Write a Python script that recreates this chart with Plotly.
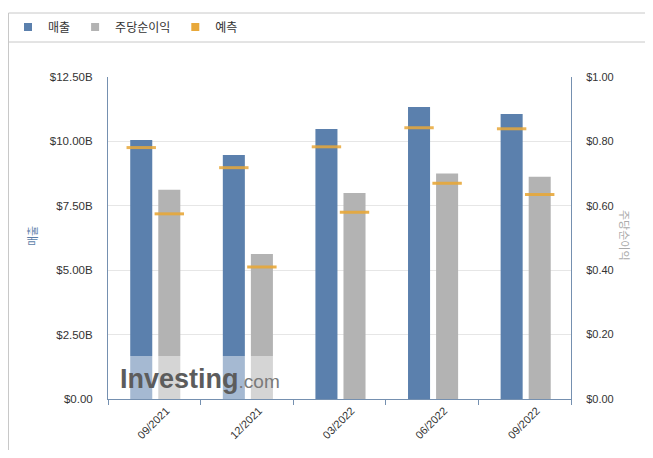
import plotly.graph_objects as go

# ---- data ----
periods = ["09/2021", "12/2021", "03/2022", "06/2022", "09/2022"]
revenue_b = [10.05, 9.47, 10.48, 11.34, 11.06]          # 매출 (billions USD)
revenue_fc_b = [9.76, 8.98, 9.79, 10.53, 10.49]         # 매출 예측
eps = [0.65, 0.45, 0.64, 0.70, 0.69]                    # 주당순이익
eps_fc = [0.575, 0.41, 0.58, 0.67, 0.635]               # 주당순이익 예측
rev_ticks = [0, 2.5, 5, 7.5, 10, 12.5]
eps_ticks = [0, 0.2, 0.4, 0.6, 0.8, 1.0]

BLUE = "#5b80ad"
GRAY = "#b3b3b3"
ORANGE = "#e8a83a"
AXIS = "#7590b0"
TXT = "#333333"
FRAME = "#c8c8c8"

idx = list(range(len(periods)))
BW = 0.238
REV_OFF = -0.26
EPS_OFF = 0.043

fig = go.Figure()
fig.add_trace(go.Bar(x=idx, y=revenue_b, width=BW, offset=REV_OFF,
                     marker=dict(color=BLUE, line=dict(width=0)),
                     name="매출", showlegend=False, yaxis="y"))
fig.add_trace(go.Bar(x=idx, y=eps, width=BW, offset=EPS_OFF,
                     marker=dict(color=GRAY, line=dict(width=0)),
                     name="주당순이익", showlegend=False, yaxis="y2"))
fig.add_trace(go.Scatter(x=[i + REV_OFF + BW / 2 for i in idx], y=revenue_fc_b,
                         mode="markers", yaxis="y", showlegend=False, name="예측",
                         marker=dict(symbol="line-ew", size=21, opacity=0.85,
                                     line=dict(color=ORANGE, width=3))))
fig.add_trace(go.Scatter(x=[i + EPS_OFF + BW / 2 for i in idx], y=eps_fc,
                         mode="markers", yaxis="y2", showlegend=False, name="예측",
                         marker=dict(symbol="line-ew", size=21, opacity=0.9,
                                     line=dict(color=ORANGE, width=3))))
# legend entries
for nm, col in [("매출", BLUE), ("주당순이익", GRAY), ("예측", ORANGE)]:
    fig.add_trace(go.Scatter(x=[None], y=[None], mode="markers", name=nm,
                             marker=dict(symbol="square", size=8, color=col)))

# page is drawn with an 8px body margin: work in page pixels, convert to figure pixels
OFF = 8
PAGE_W, PAGE_H = 653, 458
W, H = PAGE_W - 2 * OFF, PAGE_H - 2 * OFF
PL, PR, PT, PB = 108, 571, 77, 399        # plot area in page pixels
L, R, T, B = PL - OFF, W - (PR - OFF), PT - OFF, H - (PB - OFF)
pw, ph = W - L - R, H - T - B

def px_x(p):
    return (p - OFF - L) / pw

def px_y(p):
    return (H - B - (p - OFF)) / ph

fig.update_layout(
    width=W, height=H,
    margin=dict(l=L, r=R, t=T, b=B, autoexpand=False),
    paper_bgcolor="white", plot_bgcolor="white",
    barmode="overlay",
    font=dict(family="Liberation Sans, Arial, sans-serif", size=11, color=TXT),
    showlegend=True,
    legend=dict(orientation="h", xref="container", yref="container",
                x=0, xanchor="left",
                y=1 - (27 - OFF) / H, yanchor="middle",
                font=dict(family="Noto Sans CJK KR", size=12, color=TXT),
                bgcolor="rgba(0,0,0,0)", itemclick=False, tracegroupgap=0),
    xaxis=dict(range=[-0.5, len(periods) - 0.5], automargin=False,
               tickvals=[i + 0.13 for i in idx], ticktext=periods,
               tickangle=-45, ticks="", showgrid=False, zeroline=False,
               showline=True, linecolor=AXIS, linewidth=1,
               tickfont=dict(size=11, color=TXT),
               minor=dict(tickvals=[i - 0.5 for i in range(len(periods) + 1)],
                          ticks="outside", ticklen=5, tickcolor=AXIS, showgrid=False)),
    yaxis=dict(range=[0, 12.5], automargin=False, tickvals=rev_ticks,
               ticktext=[f"${v:.2f}B" if v else "$0.00" for v in rev_ticks],
               showgrid=True, gridcolor="#e6e6e6", zeroline=False,
               showline=True, linecolor=AXIS, linewidth=1, ticks="",
               ticklabelstandoff=12, tickfont=dict(size=11.5, color=TXT)),
    yaxis2=dict(range=[0, 1.0], automargin=False, tickvals=eps_ticks,
                ticktext=[f"${v:.2f}" for v in eps_ticks],
                overlaying="y", side="right", showgrid=False, zeroline=False,
                showline=True, linecolor=AXIS, linewidth=1, ticks="",
                ticklabelstandoff=12, tickfont=dict(size=11, color=TXT)),
)

# frame lines
fig.add_shape(type="line", xref="paper", yref="paper", x0=px_x(8.5), x1=px_x(PAGE_W), y0=px_y(13), y1=px_y(13),
              line=dict(color=FRAME, width=1))
fig.add_shape(type="line", xref="paper", yref="paper", x0=px_x(8.5), x1=px_x(PAGE_W), y0=px_y(42), y1=px_y(42),
              line=dict(color=FRAME, width=1))
fig.add_shape(type="line", xref="paper", yref="paper", x0=px_x(8.5), x1=px_x(8.5), y0=px_y(13), y1=px_y(PAGE_H),
              line=dict(color=FRAME, width=1))

# axis titles
fig.add_annotation(text="매출", xref="paper", yref="paper", x=px_x(32), y=px_y(236),
                   xanchor="center", yanchor="middle",
                   showarrow=False, textangle=-90,
                   font=dict(family="Noto Sans CJK KR", size=11, color="#5b7ea8"))
fig.add_annotation(text="주당순이익", xref="paper", yref="paper", x=px_x(625), y=px_y(235),
                   xanchor="center", yanchor="middle",
                   showarrow=False, textangle=90,
                   font=dict(family="Noto Sans CJK KR", size=11, color="#aaaaaa"))

# watermark
fig.add_shape(type="rect", xref="paper", yref="paper", x0=0, x1=px_x(292), y0=0, y1=px_y(356),
              fillcolor="rgba(255,255,255,0.45)", line=dict(width=0), layer="above")
fig.add_annotation(text="<b>Investing</b><span style='font-size:19px;color:#7a7a7a'>.com</span>",
                   xref="paper", yref="paper", x=px_x(118), y=px_y(379), xanchor="left",
                   yanchor="middle", showarrow=False,
                   font=dict(family="Liberation Sans, Arial", size=27, color="#5c5c5c"))

fig.write_html("out.html")
